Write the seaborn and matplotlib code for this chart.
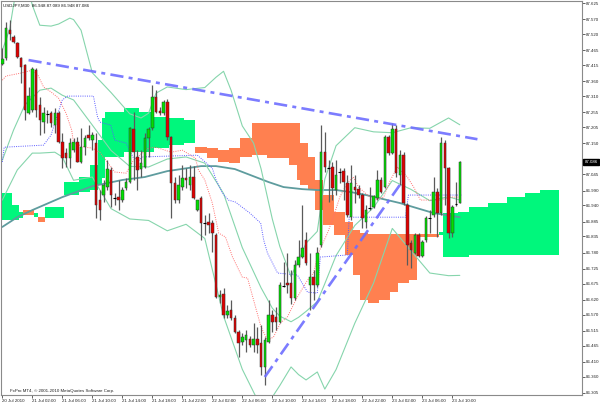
import matplotlib
matplotlib.use("Agg")
import matplotlib.pyplot as plt
import matplotlib.transforms as mtrans
import seaborn as sns

sns.set_style("white")
plt.rcParams['font.family'] = ['Liberation Sans', 'DejaVu Sans']

# ---------------- data (USDJPY M30, bar index 0 = 20 Jul 2010 22:00) ----------------
bar_open = [87.418, 87.439, 87.533, 87.510, 87.489, 87.439, 87.415, 87.252, 87.263, 87.398,
            87.280, 87.222, 87.252, 87.252, 87.212, 87.252, 87.154, 87.117, 87.100, 87.127,
            87.154, 87.087, 87.137, 87.178, 87.161, 87.151, 86.958, 86.975, 87.002, 87.060,
            86.968, 86.968, 86.958, 86.999, 87.019, 87.198, 87.104, 87.063, 87.070, 87.168,
            87.202, 87.307, 87.259, 87.252, 87.290, 87.171, 87.016, 86.958, 87.002, 87.032,
            87.009, 87.036, 86.924, 86.965, 86.880, 86.884, 86.880, 86.840, 86.630, 86.640,
            86.569, 86.586, 86.559, 86.511, 86.477, 86.484, 86.487, 86.467, 86.487, 86.474,
            86.393, 86.477, 86.569, 86.562, 86.545, 86.670, 86.677, 86.677, 86.626, 86.738,
            86.765, 86.823, 86.670, 86.697, 86.670, 86.806, 87.120, 87.070, 87.070, 86.992,
            87.056, 87.056, 87.016, 86.900, 87.002, 86.995, 86.975, 86.884, 86.934, 86.934,
            86.965, 87.026, 87.002, 87.171, 87.117, 87.198, 87.043, 87.110, 86.941, 86.812,
            86.779, 86.840, 86.768, 86.823, 86.900, 86.907, 86.985, 86.914, 87.151, 87.066,
            86.846, 86.941, 86.948]
bar_high = [87.473, 87.561, 87.567, 87.517, 87.493, 87.442, 87.418, 87.341, 87.408, 87.405,
            87.307, 87.273, 87.263, 87.259, 87.269, 87.259, 87.185, 87.134, 87.168, 87.168,
            87.171, 87.202, 87.178, 87.212, 87.188, 87.185, 86.992, 87.026, 87.093, 87.070,
            86.982, 87.026, 87.002, 87.032, 87.205, 87.256, 87.127, 87.127, 87.185, 87.205,
            87.347, 87.330, 87.273, 87.297, 87.300, 87.175, 87.036, 87.043, 87.077, 87.066,
            87.077, 87.073, 86.958, 86.972, 86.907, 86.914, 86.890, 86.846, 86.653, 86.660,
            86.603, 86.620, 86.569, 86.518, 86.508, 86.518, 86.498, 86.542, 86.528, 86.535,
            86.494, 86.620, 86.586, 86.596, 86.680, 86.748, 86.779, 86.721, 86.755, 86.823,
            86.941, 86.850, 86.779, 86.721, 86.799, 87.212, 87.188, 87.093, 87.087, 87.093,
            87.066, 87.066, 87.043, 87.077, 87.043, 87.009, 86.982, 86.941, 87.002, 86.975,
            87.060, 87.036, 87.178, 87.178, 87.219, 87.212, 87.127, 87.120, 86.948, 86.823,
            86.846, 86.846, 86.823, 86.904, 86.924, 87.036, 86.999, 87.171, 87.161, 87.070,
            86.941, 87.019, 87.089]
bar_low = [87.415, 87.432, 87.500, 87.489, 87.439, 87.354, 87.229, 87.249, 87.256, 87.239,
           87.178, 87.185, 87.219, 87.205, 87.185, 87.151, 87.066, 87.070, 87.066, 87.120,
           87.087, 87.083, 87.110, 87.161, 87.127, 86.897, 86.890, 86.951, 86.992, 86.934,
           86.941, 86.924, 86.951, 86.992, 87.016, 87.026, 86.992, 87.036, 87.066, 87.104,
           87.195, 87.252, 87.246, 87.246, 87.161, 86.897, 86.948, 86.948, 86.992, 86.999,
           86.992, 86.961, 86.921, 86.823, 86.840, 86.846, 86.782, 86.626, 86.609, 86.559,
           86.559, 86.552, 86.508, 86.427, 86.467, 86.443, 86.460, 86.443, 86.440, 86.366,
           86.332, 86.474, 86.511, 86.518, 86.542, 86.664, 86.643, 86.606, 86.620, 86.731,
           86.762, 86.738, 86.586, 86.620, 86.664, 86.799, 87.053, 86.951, 86.958, 86.975,
           87.016, 86.958, 86.900, 86.890, 86.948, 86.965, 86.863, 86.863, 86.924, 86.931,
           86.958, 86.982, 86.999, 87.110, 87.114, 87.036, 87.009, 86.941, 86.738, 86.728,
           86.775, 86.765, 86.765, 86.816, 86.846, 86.900, 86.833, 86.907, 86.941, 86.829,
           86.833, 86.938, 86.948]
bar_close = [87.435, 87.540, 87.520, 87.493, 87.442, 87.408, 87.263, 87.310, 87.401, 87.263,
             87.229, 87.252, 87.249, 87.219, 87.252, 87.154, 87.100, 87.100, 87.151, 87.154,
             87.087, 87.137, 87.168, 87.168, 87.178, 86.941, 86.924, 87.009, 87.063, 86.975,
             86.965, 86.958, 86.992, 87.019, 87.202, 87.120, 87.060, 87.083, 87.168, 87.198,
             87.307, 87.256, 87.252, 87.290, 87.171, 87.016, 86.958, 87.009, 87.032, 87.026,
             87.036, 86.965, 86.958, 86.880, 86.884, 86.873, 86.846, 86.630, 86.636, 86.569,
             86.582, 86.559, 86.511, 86.474, 86.494, 86.501, 86.467, 86.487, 86.467, 86.393,
             86.484, 86.569, 86.545, 86.545, 86.670, 86.667, 86.670, 86.626, 86.738, 86.765,
             86.796, 86.745, 86.697, 86.670, 86.779, 87.120, 87.070, 87.066, 86.999, 87.043,
             87.053, 87.019, 86.907, 87.016, 86.992, 86.975, 86.897, 86.924, 86.931, 86.972,
             87.026, 86.985, 87.171, 87.117, 87.198, 87.049, 87.110, 86.948, 86.806, 86.789,
             86.840, 86.768, 86.816, 86.897, 86.897, 86.985, 86.914, 87.151, 87.066, 86.846,
             86.934, 86.945, 87.086]

# Bollinger bands (read at sample bars)
bb_up_bar = [0, 1, 2, 3, 4, 6, 7, 8, 10, 13, 15, 18, 19, 21, 24, 29, 34, 37, 39, 41, 44, 49, 54,
             57, 59, 61, 64, 67, 69, 72, 74, 77, 79, 81, 84, 86, 89, 94, 99, 104, 109, 114, 119, 122]
bb_up = [87.466, 87.500, 87.540, 87.618, 87.686, 87.720, 87.669, 87.618, 87.550, 87.547, 87.554,
         87.574, 87.569, 87.533, 87.389, 87.322, 87.250, 87.236, 87.252, 87.320, 87.341, 87.332,
         87.339, 87.374, 87.394, 87.330, 87.209, 87.151, 87.064, 86.894, 86.801, 86.699, 86.755,
         86.812, 86.852, 87.029, 87.142, 87.203, 87.189, 87.186, 87.203, 87.201, 87.236, 87.213]
bb_mid_bar = [0, 3, 6, 10, 13, 16, 19, 24, 29, 34, 39, 44, 49, 54, 59, 64, 69, 72, 74, 77, 79, 81,
              84, 86, 89, 94, 99, 104, 109, 114, 119, 122]
bb_mid = [87.093, 87.195, 87.280, 87.330, 87.337, 87.313, 87.297, 87.212, 87.126, 87.072, 87.070,
          87.097, 87.104, 87.083, 86.980, 86.797, 86.661, 86.592, 86.565, 86.546, 86.561, 86.581,
          86.614, 86.675, 86.770, 86.872, 86.933, 87.024, 86.994, 86.956, 86.969, 86.958]
bb_low_bar = [0, 4, 8, 10, 14, 16, 19, 24, 29, 34, 39, 44, 49, 54, 59, 64, 69, 72, 74, 77, 79, 81,
              84, 86, 89, 94, 99, 104, 109, 114, 119, 122]
bb_low = [86.958, 87.060, 87.117, 87.117, 87.120, 87.104, 87.025, 87.036, 86.929, 86.894, 86.889,
          86.854, 86.876, 86.828, 86.565, 86.385, 86.257, 86.291, 86.330, 86.393, 86.367, 86.349,
          86.376, 86.318, 86.384, 86.541, 86.677, 86.862, 86.786, 86.711, 86.702, 86.703]

# long moving average (teal)
ma_bar = [0, 4, 8, 16, 24, 32, 38, 44, 53, 57, 62, 71, 75, 80, 84, 89, 93, 97, 106, 115, 122]
ma_val = [86.867, 86.900, 86.924, 86.968, 87.005, 87.026, 87.036, 87.056, 87.073, 87.073, 87.063,
          87.019, 87.002, 86.995, 86.992, 86.992, 86.985, 86.975, 86.948, 86.914, 86.900]

# Ichimoku tenkan (red dotted) and kijun (blue dotted)
tenkan_bar = [0, 1, 5, 8, 9.5, 11, 13, 15, 17, 18.5, 19, 22, 24, 26, 29, 30, 33, 35, 39, 41, 45, 48,
              51.5, 52.3, 54, 56, 57.7, 59.5, 61.4, 64, 65.4, 67, 69, 70.7, 72.3, 74.2, 76, 78.7,
              81.4, 83, 84.3, 86.7, 88, 90, 92, 93.6, 95, 97.4, 99, 101.7, 103.5, 105.4, 108,
              109.7, 111.5, 117, 119.5, 122]
tenkan = [87.364, 87.378, 87.388, 87.398, 87.381, 87.341, 87.324, 87.303, 87.252, 87.195, 87.151,
          87.137, 87.134, 87.120, 87.070, 87.053, 87.049, 87.093, 87.134, 87.137, 87.120, 87.127,
          87.100, 87.060, 87.026, 86.948, 86.846, 86.833, 86.765, 86.697, 86.694, 86.620, 86.528,
          86.484, 86.494, 86.542, 86.562, 86.630, 86.687, 86.711, 86.779, 86.846, 86.890, 86.968,
          87.016, 87.036, 87.002, 86.975, 86.958, 86.968, 87.026, 87.070, 87.036, 87.002, 86.958,
          86.958, 86.968, 86.968]
kijun_bar = [0, 0.5, 11, 13, 14.5, 16, 17.4, 24.3, 25.4, 26, 28.9, 30, 33, 35, 36.5, 37.3, 52, 56,
             57, 58.7, 60.3, 62.2, 66, 68.9, 69.7, 70.7, 73.4, 78.7, 81.4, 84, 84.8, 92, 92.5,
             107.5, 108.3, 122.5]
kijun = [87.087, 87.137, 87.144, 87.178, 87.239, 87.297, 87.310, 87.310, 87.239, 87.222, 87.212,
         87.161, 87.151, 87.100, 87.093, 87.104, 87.110, 87.066, 87.026, 86.982, 86.958, 86.951,
         86.914, 86.880, 86.823, 86.779, 86.711, 86.704, 86.646, 86.643, 86.765, 86.772, 86.900,
         86.900, 86.975, 86.975]

# Kumo (cloud), shifted 26 bars ahead
cloud_first = [0, 3, 5, 6, 9, 10, 12, 17, 21, 24, 26, 27, 28, 33, 37, 41, 45, 49, 52, 55,
               58, 61, 64, 67, 71, 77, 79, 80, 82, 84, 86, 89, 92, 94, 96, 98, 101, 104, 106, 109,
               111, 117, 118, 122, 125, 130, 135, 140, 144]
cloud_last = [2, 4, 5, 8, 9, 11, 16, 20, 23, 25, 26, 27, 32, 36, 40, 44, 48, 51, 54, 57,
              60, 63, 66, 70, 76, 78, 79, 81, 83, 85, 88, 91, 93, 95, 97, 100, 103, 105, 108, 110,
              116, 117, 121, 124, 129, 134, 139, 143, 148]
cloud_top = [86.982, 86.941, 86.917, 86.924, 86.914, 86.900, 86.934, 87.019, 87.036, 87.077,
             87.161, 87.236, 87.256, 87.269, 87.256, 87.239, 87.236, 87.229, 87.137, 87.134,
             87.127, 87.134, 87.168, 87.219, 87.219, 87.219, 87.219, 87.151, 87.104, 87.026,
             86.975, 86.917, 86.884, 86.856, 86.846, 86.843, 86.843, 86.843, 86.843, 86.843,
             86.843, 86.850, 86.914, 86.917, 86.934, 86.948, 86.968, 86.982, 86.992]
cloud_bottom = [86.890, 86.890, 86.897, 86.907, 86.900, 86.884, 86.897, 86.975, 86.985, 86.992,
                87.009, 87.032, 87.104, 87.120, 87.120, 87.134, 87.144, 87.151, 87.117, 87.100,
                87.087, 87.083, 87.104, 87.110, 87.100, 87.077, 87.026, 87.009, 86.992, 86.924,
                86.873, 86.840, 86.772, 86.704, 86.620, 86.609, 86.620, 86.647, 86.677, 86.687,
                86.833, 86.840, 86.765, 86.765, 86.772, 86.772, 86.772, 86.772, 86.772]
cloud_bull = [1, 1, 1, 0, 1, 0, 1, 1, 1, 1, 1, 1, 1, 1, 1, 1, 1, 1, 0, 0,
              0, 0, 0, 0, 0, 0, 0, 0, 0, 0, 0, 0, 0, 0, 0, 0, 0, 0, 0, 0,
              0, 1, 1, 1, 1, 1, 1, 1, 1]

# hand-drawn trend lines
trend_down_bar = [7.0, 126.7]
trend_down_val = [87.432, 87.164]
trend_up_bar = [70.0, 106.0]
trend_up_val = [86.359, 87.009]

# axes labels
price_ticks = [87.625, 87.570, 87.520, 87.465, 87.415, 87.360, 87.310, 87.255, 87.205, 87.150,
               87.045, 86.990, 86.940, 86.885, 86.835, 86.780, 86.725, 86.675, 86.620, 86.570,
               86.515, 86.465, 86.410, 86.360, 86.305]
time_tick_bars = [0, 8, 16, 24, 32, 40, 48, 56, 64, 72, 80, 88, 96, 104, 112, 120]
time_tick_labels = ["20 Jul 2010", "21 Jul 02:00", "21 Jul 06:00", "21 Jul 10:00", "21 Jul 14:00",
                    "21 Jul 18:00", "21 Jul 22:00", "22 Jul 02:00", "22 Jul 06:00", "22 Jul 10:00",
                    "22 Jul 14:00", "22 Jul 18:00", "22 Jul 22:00", "23 Jul 02:00", "23 Jul 06:00",
                    "23 Jul 10:00"]
title_text = "USDJPY,M30  86.948 87.089 86.948 87.086"
footer_text = "FxPro MT4, \u00a9 2001-2010 MetaQuotes Software Corp."

# ---------------- figure ----------------
W, H = 600, 404
fig = plt.figure(figsize=(W / 100, H / 100), dpi=100)
ax = fig.add_axes([0.5 / W, 9 / H, 581.5 / W, 394 / H])
ax.set_facecolor("white")

FS = 3.2
GREEN_CLOUD = "#00F77C"
CORAL = "#FF8050"

# cloud
for s, e, t, b, up in zip(cloud_first, cloud_last, cloud_top, cloud_bottom, cloud_bull):
    ax.fill_between([s - 0.5, e + 0.5], [b, b], [t, t], color=GREEN_CLOUD if up else CORAL,
                    lw=0, zorder=1)

# indicator lines
common = dict(ax=ax, estimator=None, sort=False, legend=False)
sns.lineplot(x=ma_bar, y=ma_val, color="#5E9C9E", lw=1.3, zorder=2, **common)
for xs, ys in ((bb_up_bar, bb_up), (bb_mid_bar, bb_mid), (bb_low_bar, bb_low)):
    sns.lineplot(x=xs, y=ys, color="#86D5AC", lw=0.8, zorder=2, **common)
sns.lineplot(x=tenkan_bar, y=tenkan, color="#FF7070", lw=0.7, linestyle=(0, (1, 1.3)), zorder=2, **common)
sns.lineplot(x=kijun_bar, y=kijun, color="#5A5AFF", lw=0.7, linestyle=(0, (1, 1.3)), zorder=2, **common)

# candles
for i, (o, h, l, c) in enumerate(zip(bar_open, bar_high, bar_low, bar_close)):
    ax.vlines(i, l, h, color="#5a5a5a", lw=0.9, zorder=3)
    if abs(c - o) < 0.0045:
        ax.hlines((o + c) / 2, i - 0.36, i + 0.36, color="black", lw=0.8, zorder=4)
    else:
        ax.bar(i, abs(c - o), bottom=min(o, c), width=0.66,
               color="#00E000" if c > o else "#E00000", edgecolor="#333333", lw=0.35, zorder=4)

# trend lines
for xs, ys in ((trend_down_bar, trend_down_val), (trend_up_bar, trend_up_val)):
    sns.lineplot(x=xs, y=ys, color="#6E6EFF", lw=1.9,
                 linestyle=(0, (5, 2, 1.5, 2)), zorder=6, alpha=0.9, **common)

# scales
px_per_bar = 3.75
ax.set_xlim(-1.8 / px_per_bar, (581.5 - 1.8) / px_per_bar)
ax.set_ylim(86.298, 87.632)

ax.yaxis.tick_right()
ax.set_yticks(price_ticks)
ax.set_yticklabels([f"{v:.3f}" for v in price_ticks])
ax.set_xticks(time_tick_bars)
ax.set_xticklabels(time_tick_labels)
for lbl in ax.get_xticklabels():
    lbl.set_horizontalalignment("left")
ax.tick_params(axis="y", labelsize=FS, length=2, width=0.5, pad=1, colors="#222222",
               left=False, right=True)
ax.tick_params(axis="x", labelsize=FS, length=2, width=0.5, pad=0.8, colors="#222222",
               bottom=True)
ax.set_xlabel("")
ax.set_ylabel("")
for sp in ax.spines.values():
    sp.set_color("#8a8a8a")
    sp.set_linewidth(0.8)

# texts
fig.text(3 / W, 1 - 5.5 / H, title_text, fontsize=FS, color="#111111", va="center", ha="left")
ax.text(2, 86.298 + 0.012, footer_text, fontsize=FS, color="#222222", va="center", ha="left",
        zorder=7)

# current price box
trans = mtrans.blended_transform_factory(ax.transAxes, ax.transData)
ax.text(1.004, bar_close[-1], f"{bar_close[-1]:.3f}", transform=trans, fontsize=FS, color="white",
        ha="left", va="center", zorder=8, clip_on=False,
        bbox=dict(boxstyle="square,pad=0.25", fc="black", ec="black"))

fig.savefig("out.png", dpi=100)
